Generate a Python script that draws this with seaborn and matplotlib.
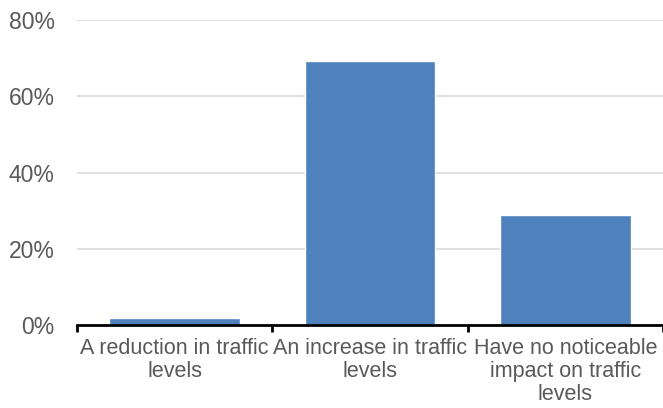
#!/usr/bin/env python3
# Bar chart: expected impact on traffic levels
import pandas as pd
import seaborn as sns
import matplotlib
matplotlib.use("Agg")
import matplotlib.pyplot as plt
from matplotlib.ticker import FuncFormatter, FixedLocator

# data
categories = ["A reduction in traffic\nlevels",
              "An increase in traffic\nlevels",
              "Have no noticeable\nimpact on traffic\nlevels"]
shares = [2.0, 69.2, 29.0]
yticks = [0, 20, 40, 60, 80]

BAR_COLOR = "#4F81BD"
TEXT_COLOR = "#595959"


def main():
    sns.set_style("white")
    plt.rcParams['font.family'] = ['Liberation Sans', 'DejaVu Sans']

    df = pd.DataFrame({"cat": categories, "share": shares})

    fig = plt.figure(figsize=(6.63, 4.08), dpi=100)
    ax = fig.add_axes([0.116, 0.203, 0.884, 0.748])

    sns.barplot(data=df, x="cat", y="share", color=BAR_COLOR,
                saturation=1, width=0.67, ax=ax, zorder=3)

    ax.set_xlim(-0.5, len(categories) - 0.5)
    ax.set_ylim(0, 80)
    ax.set_yticks(yticks)
    ax.yaxis.set_major_formatter(FuncFormatter(lambda v, p: f"{v:.0f}%"))
    ax.grid(axis="y", color="#D9D9D9", linewidth=1.2, zorder=0)
    ax.set_axisbelow(True)

    for s in ["top", "right", "left"]:
        ax.spines[s].set_visible(False)
    ax.spines["bottom"].set_color("black")
    ax.spines["bottom"].set_linewidth(2)
    ax.spines["bottom"].set_zorder(4)

    ax.set_xlabel("")
    ax.set_ylabel("")
    ax.tick_params(axis="y", length=0, pad=16, labelsize=16.5, labelcolor=TEXT_COLOR)
    ax.tick_params(axis="x", which="major", length=0, pad=9, labelsize=15.5,
                   labelcolor=TEXT_COLOR)
    ax.xaxis.set_minor_locator(FixedLocator([-0.5, 0.5, 1.5, 2.5]))
    ax.tick_params(axis="x", which="minor", bottom=True, length=5, width=2,
                   color="black", direction="out")
    for lbl in ax.get_xticklabels():
        lbl.set_linespacing(1.15)

    fig.savefig("out.png", dpi=100)


if __name__ == "__main__":
    main()
